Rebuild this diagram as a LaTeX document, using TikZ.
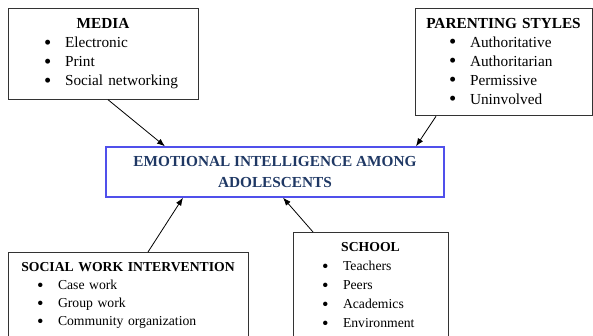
\documentclass[tikz,border=0pt]{standalone}
\usepackage{fontspec}
\setmainfont{Liberation Serif}
\usepackage{graphicx}
\usepackage{tikz}
\usetikzlibrary{positioning,arrows.meta}

\definecolor{eiblue}{RGB}{80,80,235}
\definecolor{einavy}{RGB}{31,56,100}
\newcommand\bitem[2]{\par\hspace*{#1}\makebox[21pt][l]{\raisebox{-1.5pt}{\scalebox{1.35}{\textbullet}}}#2}

\begin{document}
\begin{tikzpicture}[x=1pt,y=1pt,>={Latex[length=8pt,width=6pt]},
    listbox/.style={draw=black!80,line width=1pt,inner xsep=0pt,inner ysep=10pt,
        align=left,font=\fontsize{15.3}{19}\selectfont},
    eibox/.style={draw=eiblue,line width=1.3pt,minimum width=338pt,minimum height=50pt,
        align=center,text=einavy,font=\fontsize{15.3}{21}\selectfont\bfseries}]
    \useasboundingbox (0,0) rectangle (593,336);
    \clip (0,0) rectangle (593,336);
    % Centre
    \node[eibox] (ei) at (275,164) {EMOTIONAL INTELLIGENCE AMONG\\ADOLESCENTS};
    % Influences
    \node[listbox,text width=190pt,minimum height=88pt] (media) at (103,282)
        {\centerline{\textbf{MEDIA}}
         \bitem{36pt}{Electronic}\bitem{36pt}{Print}\bitem{36pt}{Social networking}};
    \node[listbox,text width=177pt,minimum height=104pt] (parent) at (503.5,274)
        {\centerline{\textbf{PARENTING STYLES}}
         \bitem{34pt}{Authoritative}\bitem{34pt}{Authoritarian}
         \bitem{34pt}{Permissive}\bitem{34pt}{Uninvolved}};
    \node[listbox,text width=240pt,anchor=north,
        font=\fontsize{13.7}{18}\selectfont] (social) at (128,84)
        {\centerline{\textbf{SOCIAL WORK INTERVENTION}}
         \bitem{29pt}{Case work}\bitem{29pt}{Group work}\bitem{29pt}{Community organization}
         \par\vspace*{25pt}};
    \node[listbox,text width=155pt,anchor=north,
        font=\fontsize{13.7}{19}\selectfont] (school) at (370.5,104)
        {\centerline{\textbf{SCHOOL}}
         \bitem{29pt}{Teachers}\bitem{29pt}{Peers}
         \bitem{29pt}{Academics}\bitem{29pt}{Environment}
         \par\vspace*{25pt}};

    \path[->,line width=0.8pt]
        ([xshift=5pt]media.south) edge ([xshift=-110pt]ei.north)
        ([xshift=-67.5pt]parent.south) edge ([xshift=141pt]ei.north)
        ([xshift=20pt]social.north) edge ([xshift=-92pt]ei.south)
        ([xshift=-57.5pt]school.north) edge ([xshift=8pt]ei.south);
\end{tikzpicture}
\end{document}
